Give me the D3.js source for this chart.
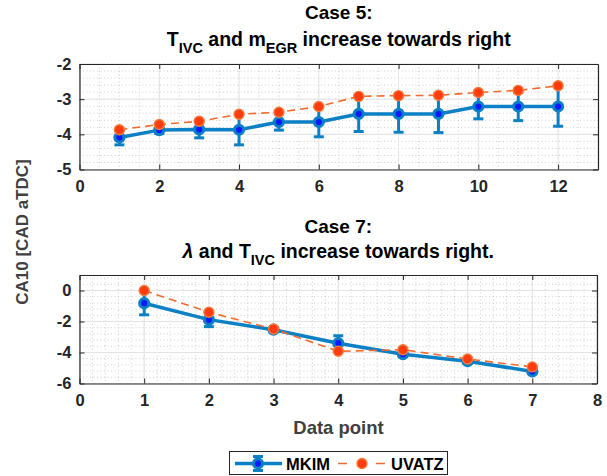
<!DOCTYPE html>
<html>
<head>
<meta charset="utf-8">
<script src="https://cdn.jsdelivr.net/npm/d3@7"></script>
<style>
  html, body { margin: 0; padding: 0; background: #fff; }
  svg { display: block; font-family: "Liberation Sans", Arial, Helvetica, sans-serif; font-weight: bold; }
</style>
</head>
<body>
<svg id="fig" width="607" height="476"></svg>
<script>
// Case 5: twelve operating points
const case5X = [1, 2, 3, 4, 5, 6, 7, 8, 9, 10, 11, 12];
const case5Mkim = [-4.09, -3.88, -3.86, -3.87, -3.65, -3.65, -3.42, -3.42, -3.42, -3.21, -3.21, -3.21];
const case5MkimErr = [0.21, 0.10, 0.24, 0.43, 0.23, 0.42, 0.50, 0.52, 0.53, 0.35, 0.40, 0.56];
const case5Uvatz = [-3.87, -3.72, -3.63, -3.43, -3.37, -3.21, -2.92, -2.90, -2.89, -2.81, -2.75, -2.62];
const case5XTicks = [0, 2, 4, 6, 8, 10, 12];
const case5YTicks = [-5, -4, -3, -2];

// Case 7: seven operating points
const case7X = [1, 2, 3, 4, 5, 6, 7];
const case7Mkim = [-0.82, -1.88, -2.53, -3.40, -4.11, -4.56, -5.22];
const case7MkimErr = [0.75, 0.45, 0.15, 0.48, 0.12, 0.12, 0.12];
const case7Uvatz = [0.00, -1.40, -2.48, -3.92, -3.82, -4.42, -4.93];
const case7XTicks = [0, 1, 2, 3, 4, 5, 6, 7, 8];
const case7YTicks = [-6, -4, -2, 0];

const seriesNames = ["MKIM", "UVATZ"];

const COL_MKIM = "#0c80c4";
const COL_MKIM_FACE = "#0a1cff";
const COL_UV = "#f26b2e";
const COL_UV_FACE = "#ff3c0e";
const AXIS_COL = "#262626";

const svg = d3.select("#fig");

function panel(opts) {
  const g = svg.append("g");
  const x = d3.scaleLinear().domain(opts.xDomain).range([opts.left, opts.right]);
  const y = d3.scaleLinear().domain(opts.yDomain).range([opts.bottom, opts.top]);

  // minor dotted grid
  const minorX = d3.range(opts.xDomain[0], opts.xDomain[1] + 1e-9, opts.xMinor);
  const minorY = d3.range(opts.yDomain[0], opts.yDomain[1] + 1e-9, opts.yMinor);
  g.append("g").selectAll("line").data(minorX).join("line")
    .attr("x1", d => x(d)).attr("x2", d => x(d))
    .attr("y1", opts.top).attr("y2", opts.bottom)
    .attr("stroke", "#c4c4c4").attr("stroke-width", 0.8).attr("stroke-dasharray", "1,2.5");
  g.append("g").selectAll("line").data(minorY).join("line")
    .attr("y1", d => y(d)).attr("y2", d => y(d))
    .attr("x1", opts.left).attr("x2", opts.right)
    .attr("stroke", "#c4c4c4").attr("stroke-width", 0.8).attr("stroke-dasharray", "1,2.5");

  // major grid
  g.append("g").selectAll("line").data(opts.xTicks).join("line")
    .attr("x1", d => x(d)).attr("x2", d => x(d))
    .attr("y1", opts.top).attr("y2", opts.bottom)
    .attr("stroke", "#e3e3e3").attr("stroke-width", 1);
  g.append("g").selectAll("line").data(opts.yTicks).join("line")
    .attr("y1", d => y(d)).attr("y2", d => y(d))
    .attr("x1", opts.left).attr("x2", opts.right)
    .attr("stroke", "#e3e3e3").attr("stroke-width", 1);

  // axes with inward ticks
  const styleAxis = sel => {
    sel.select(".domain").attr("stroke", AXIS_COL).attr("stroke-width", 1.2);
    sel.selectAll(".tick line").attr("stroke", AXIS_COL).attr("stroke-width", 1);
    sel.selectAll(".tick text").attr("fill", AXIS_COL)
      .attr("font-size", 16.5).attr("font-weight", "bold")
      .attr("font-family", "Liberation Sans, Arial, sans-serif");
  };
  const fmt = d3.format("d");
  g.append("g").attr("transform", `translate(0,${opts.bottom})`)
    .call(d3.axisBottom(x).tickValues(opts.xTicks).tickFormat(fmt).tickSizeInner(-5).tickSizeOuter(0).tickPadding(11))
    .call(styleAxis);
  g.append("g").attr("transform", `translate(${opts.left},0)`)
    .call(d3.axisLeft(y).tickValues(opts.yTicks).tickFormat(fmt).tickSizeInner(-5).tickSizeOuter(0).tickPadding(8))
    .call(styleAxis);
  g.append("g").attr("transform", `translate(0,${opts.top})`)
    .call(d3.axisTop(x).tickValues(opts.xTicks).tickFormat("").tickSizeInner(-5).tickSizeOuter(0))
    .call(styleAxis);
  g.append("g").attr("transform", `translate(${opts.right},0)`)
    .call(d3.axisRight(y).tickValues(opts.yTicks).tickFormat("").tickSizeInner(-5).tickSizeOuter(0))
    .call(styleAxis);
  g.selectAll(".tick text").text(function () { return d3.select(this).text().replace("\u2212", "-"); });

  // MKIM: error bars, line, markers
  const pts = opts.xs.map((d, i) => ({ x: d, m: opts.mkim[i], e: opts.err[i], u: opts.uvatz[i] }));
  const eb = g.append("g").attr("stroke", COL_MKIM).attr("stroke-width", 3);
  eb.selectAll("line.v").data(pts).join("line").attr("class", "v")
    .attr("x1", d => x(d.x)).attr("x2", d => x(d.x))
    .attr("y1", d => y(d.m - d.e)).attr("y2", d => y(d.m + d.e));
  eb.selectAll("line.lo").data(pts).join("line").attr("class", "lo")
    .attr("x1", d => x(d.x) - 5).attr("x2", d => x(d.x) + 5)
    .attr("y1", d => y(d.m - d.e)).attr("y2", d => y(d.m - d.e));
  eb.selectAll("line.hi").data(pts).join("line").attr("class", "hi")
    .attr("x1", d => x(d.x) - 5).attr("x2", d => x(d.x) + 5)
    .attr("y1", d => y(d.m + d.e)).attr("y2", d => y(d.m + d.e));

  g.append("path").datum(pts)
    .attr("fill", "none").attr("stroke", COL_MKIM).attr("stroke-width", 3.5)
    .attr("stroke-linejoin", "round")
    .attr("d", d3.line().x(d => x(d.x)).y(d => y(d.m)));
  g.append("g").selectAll("circle").data(pts).join("circle")
    .attr("cx", d => x(d.x)).attr("cy", d => y(d.m)).attr("r", 4.6)
    .attr("fill", COL_MKIM_FACE).attr("stroke", COL_MKIM).attr("stroke-width", 3);

  // UVATZ: dashed line and filled markers
  g.append("path").datum(pts)
    .attr("fill", "none").attr("stroke", COL_UV).attr("stroke-width", 1.6)
    .attr("stroke-dasharray", "8,5")
    .attr("d", d3.line().x(d => x(d.x)).y(d => y(d.u)));
  g.append("g").selectAll("circle").data(pts).join("circle")
    .attr("cx", d => x(d.x)).attr("cy", d => y(d.u)).attr("r", 5)
    .attr("fill", COL_UV_FACE).attr("stroke", "#f47a3c").attr("stroke-width", 1.4);

  // two-line title with subscripts
  const cx = (opts.left + opts.right) / 2;
  g.append("text").attr("x", cx).attr("y", opts.titleY1).attr("text-anchor", "middle")
    .attr("font-size", 19).attr("fill", "#000").text(opts.title1);
  const t2 = g.append("text").attr("x", cx).attr("y", opts.titleY2).attr("text-anchor", "middle")
    .attr("font-size", 19.5).attr("fill", "#000");
  opts.title2.forEach(part => {
    const ts = t2.append("tspan").text(part.t);
    if (part.sub) ts.attr("font-size", 14.5).attr("dy", 7);
    if (part.back) ts.attr("dy", -7);
    if (part.italic) ts.attr("font-style", "italic");
  });
  return { x, y };
}

panel({
  left: 79.5, right: 598, top: 64, bottom: 169.5,
  xDomain: [0, 13], yDomain: [-5, -2],
  xTicks: case5XTicks, yTicks: case5YTicks, xMinor: 0.5, yMinor: 0.2,
  xs: case5X, mkim: case5Mkim, err: case5MkimErr, uvatz: case5Uvatz,
  title1: "Case 5:", titleY1: 19,
  title2: [{ t: "T" }, { t: "IVC", sub: true }, { t: " and m", back: true }, { t: "EGR", sub: true }, { t: " increase towards right", back: true }],
  titleY2: 46
});

panel({
  left: 79.5, right: 597, top: 275, bottom: 383.5,
  xDomain: [0, 8], yDomain: [-6, 1],
  xTicks: case7XTicks, yTicks: case7YTicks, xMinor: 0.2, yMinor: 0.4,
  xs: case7X, mkim: case7Mkim, err: case7MkimErr, uvatz: case7Uvatz,
  title1: "Case 7:", titleY1: 233,
  title2: [{ t: "\u03bb", italic: true }, { t: " and T" }, { t: "IVC", sub: true }, { t: " increase towards right.", back: true }],
  titleY2: 258
});

// shared axis labels
svg.append("text").attr("transform", "translate(28,232) rotate(-90)")
  .attr("text-anchor", "middle").attr("font-size", 17).attr("fill", "#404040")
  .text("CA10 [CAD aTDC]");
svg.append("text").attr("x", 338.5).attr("y", 434).attr("text-anchor", "middle")
  .attr("font-size", 18.5).attr("fill", "#404040").text("Data point");

// legend
const lg = svg.append("g");
lg.append("rect").attr("x", 229.5).attr("y", 451.5).attr("width", 218).attr("height", 23)
  .attr("fill", "#fff").attr("stroke", AXIS_COL).attr("stroke-width", 1);
const ly = 463.5;
lg.append("line").attr("x1", 235).attr("x2", 282).attr("y1", ly).attr("y2", ly)
  .attr("stroke", COL_MKIM).attr("stroke-width", 3.5);
lg.append("line").attr("x1", 258).attr("x2", 258).attr("y1", ly - 7).attr("y2", ly + 7)
  .attr("stroke", COL_MKIM).attr("stroke-width", 3);
[ly - 7, ly + 7].forEach(yy => lg.append("line").attr("x1", 253).attr("x2", 263).attr("y1", yy).attr("y2", yy)
  .attr("stroke", COL_MKIM).attr("stroke-width", 3));
lg.append("circle").attr("cx", 258).attr("cy", ly).attr("r", 4.6)
  .attr("fill", COL_MKIM_FACE).attr("stroke", COL_MKIM).attr("stroke-width", 3);
lg.append("text").attr("x", 286).attr("y", ly + 6).attr("font-size", 16.5).attr("fill", "#000").text(seriesNames[0]);
lg.append("line").attr("x1", 338).attr("x2", 385).attr("y1", ly).attr("y2", ly)
  .attr("stroke", COL_UV).attr("stroke-width", 1.6).attr("stroke-dasharray", "9,11,7,11,9");
lg.append("circle").attr("cx", 362).attr("cy", ly).attr("r", 5)
  .attr("fill", COL_UV_FACE).attr("stroke", "#f47a3c").attr("stroke-width", 1.4);
lg.append("text").attr("x", 391).attr("y", ly + 6).attr("font-size", 16.5).attr("fill", "#000").text(seriesNames[1]);
</script>
</body>
</html>
